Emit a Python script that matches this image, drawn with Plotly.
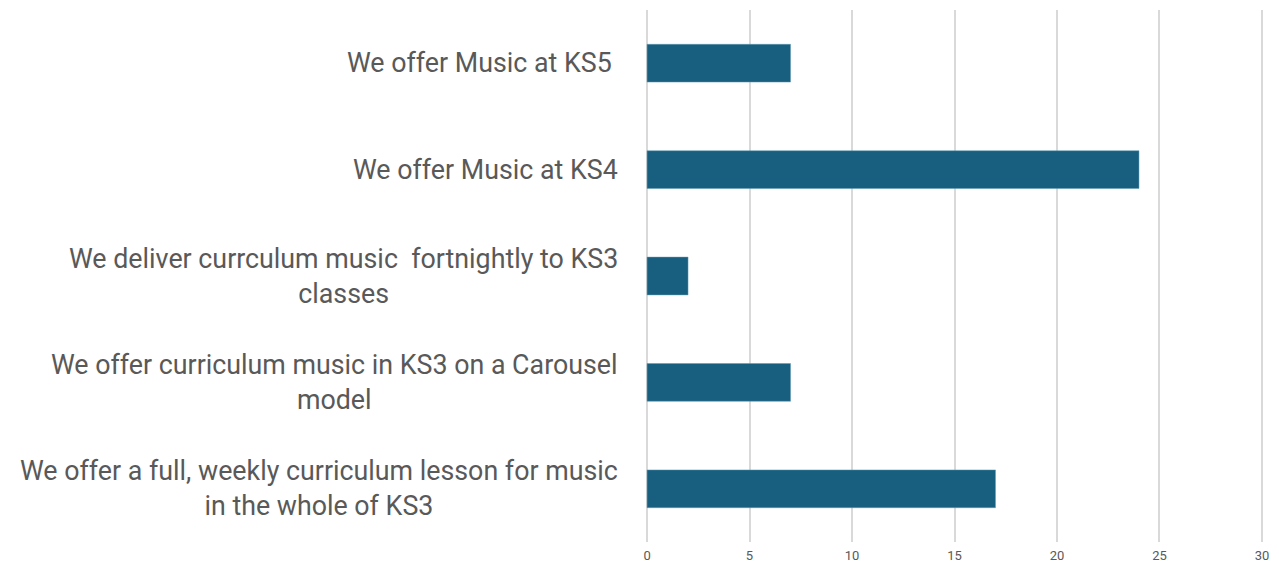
import plotly.graph_objects as go

categories = [
    "We offer a full, weekly curriculum lesson for music<br>in the whole of KS3",
    "We offer curriculum music in KS3 on a Carousel<br>model",
    "We deliver currculum music  fortnightly to KS3<br>classes",
    "We offer Music at KS4",
    "We offer Music at KS5 ",
]
values = [17, 7, 2, 24, 7]
x_ticks = [0, 5, 10, 15, 20, 25, 30]

fig = go.Figure()
fig.add_trace(go.Bar(
    y=list(range(len(categories))),
    x=values,
    orientation="h",
    marker=dict(color="#185F7F", line=dict(color="#5f9ab5", width=0.5)),
    width=0.355,
    hoverinfo="skip",
))

for i, c in enumerate(categories):
    fig.add_annotation(
        x=-0.0403, xref="paper", y=i, yref="y",
        text=c, showarrow=False, xanchor="right", yanchor="middle",
        align="center",
        font=dict(family="Roboto", size=26.8, color="#595959"),
    )

fig.update_layout(
    width=1263, height=557,
    margin=dict(l=637, r=6, t=2, b=20),
    plot_bgcolor="white", paper_bgcolor="white",
    showlegend=False,
    xaxis=dict(
        range=[-0.1, 30.1], tickvals=x_ticks, showgrid=True,
        gridcolor="#d9d9d9", gridwidth=1.5, zeroline=False,
        showline=False, ticks="", ticklabelstandoff=4,
        tickfont=dict(family="Roboto", size=13, color="#595959"),
        fixedrange=True,
    ),
    yaxis=dict(
        range=[-0.5, 4.5], showticklabels=False, showgrid=False,
        zeroline=False, showline=False, fixedrange=True,
    ),
)

fig.write_html("out.html")
